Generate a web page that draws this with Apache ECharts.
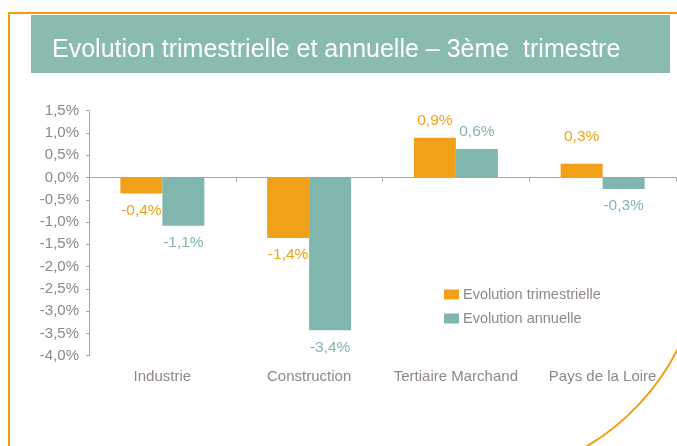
<!DOCTYPE html>
<html>
<head>
<meta charset="utf-8">
<script src="https://cdn.jsdelivr.net/npm/echarts@6/dist/echarts.min.js"></script>
<style>
  html, body { margin: 0; padding: 0; background: #fff; }
  #chart { width: 677px; height: 446px; }
</style>
</head>
<body>
<div id="chart"></div>
<script>
// données
const categories = ['Industrie', 'Construction', 'Tertiaire Marchand', 'Pays de la Loire'];
const evolTrim = [-0.36, -1.36, 0.89, 0.31];
const evolAnnuelle = [-1.08, -3.43, 0.64, -0.26];
const yTicks = { min: -4, max: 1.5, step: 0.5 };
const seriesNames = ['Evolution trimestrielle', 'Evolution annuelle'];

const ORANGE = '#F1A118';
const TEAL = '#80B6AE';
const GREY_TXT = '#8F8884';
const GREY_AXIS = '#ADA7A3';
const FONT = '"Liberation Sans", Arial, sans-serif';

function pct(v) {
    return v.toFixed(1).replace('.', ',') + '%';
}

// position des étiquettes : au-dessus si positif, en dessous si négatif
function withLabels(values, color, extra) {
    return values.map(function (v, i) {
        const lbl = { position: v < 0 ? 'bottom' : 'top' };
        if (extra && extra[i]) Object.assign(lbl, extra[i]);
        return { value: v, label: lbl };
    });
}

const chart = echarts.init(document.getElementById('chart'), null, { renderer: 'canvas' });

chart.setOption({
    animation: false,
    textStyle: { fontFamily: FONT },
    grid: { left: 89, right: 1, top: 110.7, bottom: 90.3, containLabel: false },
    legend: {
        orient: 'vertical',
        left: 444,
        top: 287,
        padding: 0,
        itemWidth: 15,
        itemHeight: 10,
        itemGap: 9,
        icon: 'rect',
        data: seriesNames,
        textStyle: { color: GREY_TXT, fontSize: 14.5, fontFamily: FONT, padding: [0, 0, 0, -1] }
    },
    xAxis: [
        {
            // axe du zéro (trait + graduations)
            type: 'category',
            data: categories,
            position: 'bottom',
            axisLine: { onZero: true, lineStyle: { color: GREY_AXIS, width: 1 } },
            axisTick: { show: true, length: 4, lineStyle: { color: GREY_AXIS } },
            axisLabel: { show: false },
            splitLine: { show: false }
        },
        {
            // libellés en bas
            type: 'category',
            data: categories,
            position: 'bottom',
            axisLine: { show: false, onZero: false },
            axisTick: { show: false },
            axisLabel: { color: GREY_TXT, fontSize: 15, margin: 14, interval: 0, fontFamily: FONT },
            splitLine: { show: false }
        }
    ],
    yAxis: {
        type: 'value',
        min: yTicks.min,
        max: yTicks.max,
        interval: yTicks.step,
        axisLine: { show: true, lineStyle: { color: GREY_AXIS } },
        axisTick: { show: true, length: 3, lineStyle: { color: GREY_AXIS } },
        axisLabel: { color: GREY_TXT, fontSize: 15, margin: 10, formatter: pct, fontFamily: FONT },
        splitLine: { show: false }
    },
    series: [
        {
            name: seriesNames[0],
            type: 'bar',
            xAxisIndex: 0,
            barWidth: 42,
            barGap: '0%',
            itemStyle: { color: ORANGE },
            label: {
                show: true, color: ORANGE, fontSize: 15.5, distance: 9,
                formatter: function (p) { return pct(p.value); }
            },
            data: withLabels(evolTrim, ORANGE, { 3: { distance: 19 } })
        },
        {
            name: seriesNames[1],
            type: 'bar',
            xAxisIndex: 0,
            barWidth: 42,
            barGap: '0%',
            itemStyle: { color: TEAL },
            label: {
                show: true, color: TEAL, fontSize: 15.5, distance: 9,
                formatter: function (p) { return pct(p.value); }
            },
            data: withLabels(evolAnnuelle, TEAL)
        }
    ],
    graphic: [
        // cadre orange
        { type: 'line', shape: { x1: 8, y1: 13, x2: 677, y2: 13 }, style: { stroke: '#F29E0C', lineWidth: 2 } },
        { type: 'line', shape: { x1: 9, y1: 12, x2: 9, y2: 446 }, style: { stroke: '#F29E0C', lineWidth: 2 } },
        { type: 'arc', shape: { cx: 469, cy: 245, r: 233, startAngle: 0.2, endAngle: 1.3 },
          style: { stroke: '#F29E0C', lineWidth: 2, fill: null } },
        // bandeau du titre
        { type: 'rect', shape: { x: 31, y: 15, width: 639, height: 58 }, style: { fill: '#89BBAE' } },
        { type: 'text', x: 52, y: 50.5,
          style: { text: 'Evolution trimestrielle et annuelle – 3ème  trimestre', fill: '#FFFFFF',
                   font: '25px ' + FONT, textVerticalAlign: 'middle' } }
    ]
});
</script>
</body>
</html>
